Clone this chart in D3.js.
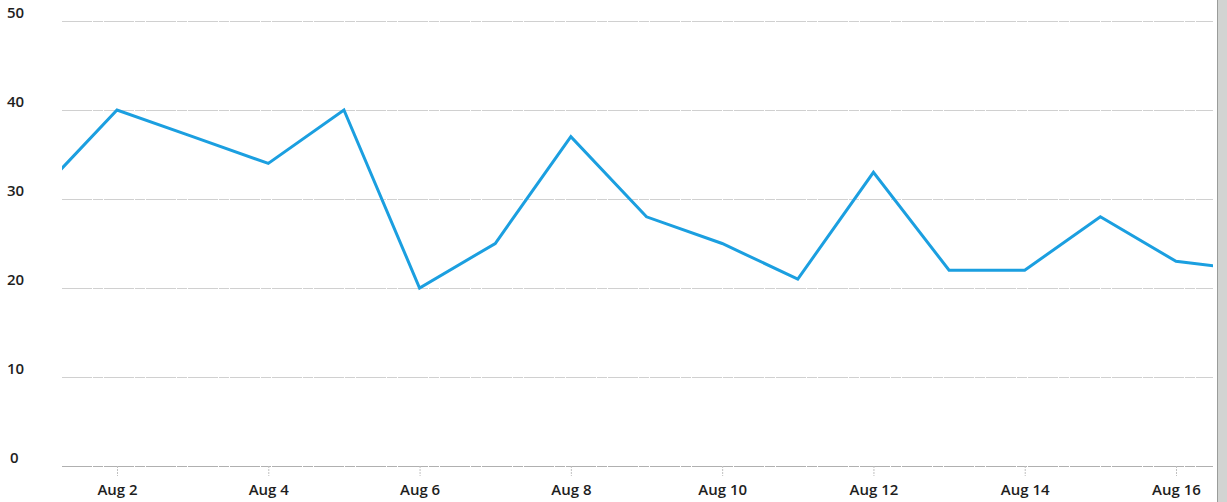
<!DOCTYPE html>
<html>
<head>
<meta charset="utf-8">
<script src="https://cdn.jsdelivr.net/npm/d3@7"></script>
<style>
  html, body { margin: 0; padding: 0; background: #fff; }
  svg { display: block; }
  .tick-label { font-family: "Open Sans", sans-serif; font-weight: 600; font-size: 15px; fill: #1e1e1e; }
</style>
</head>
<body>
<div id="chart"></div>
<script>
// data (daily values, August)
var days = [1, 2, 3, 4, 5, 6, 7, 8, 9, 10, 11, 12, 13, 14, 15, 16, 17];
var values = [31, 40, 37, 34, 40, 20, 25, 37, 28, 25, 21, 33, 22, 22, 28, 23, 22];
var yTicks = [0, 10, 20, 30, 40, 50];
var xTickDays = [2, 4, 6, 8, 10, 12, 14, 16];

var svgWidth = 1227;
var svgHeight = 502;

// plot box
var plot = { left: 62, right: 1213, top: 21, bottom: 466 };

var svg = d3.select("#chart").append("svg")
    .attr("width", svgWidth)
    .attr("height", svgHeight);

var toDate = function (d) { return new Date(2015, 7, d); };
var data = days.map(function (d, i) { return { date: toDate(d), value: values[i] }; });

// Aug 2 -> 117px, Aug 16 -> 1176px; the plot box clips the ends
var xScale = d3.scaleTime()
    .domain([toDate(2), toDate(16)])
    .range([117, 1176]);

var yScale = d3.scaleLinear()
    .domain([0, 50])
    .range([plot.bottom, plot.top]);

// gridlines
svg.append("g")
    .selectAll("line")
    .data(yTicks)
    .enter()
    .append("line")
    .attr("x1", plot.left)
    .attr("x2", plot.right)
    .attr("y1", d => yScale(d) + 0.5)
    .attr("y2", d => yScale(d) + 0.5)
    .attr("stroke", d => d === 0 ? "#b0b0b0" : "#d0d0d0")
    .attr("stroke-width", 1)
    .attr("stroke-dasharray", "30,1,10,1");

// y labels sit just above their gridline
svg.append("g")
    .selectAll("text")
    .data(yTicks)
    .enter()
    .append("text")
    .attr("class", "tick-label")
    .attr("x", d => d === 0 ? 10 : 7)
    .attr("y", d => yScale(d) - 3)
    .text(d => d);

// x axis
var xAxis = d3.axisBottom(xScale)
    .tickValues(xTickDays.map(toDate))
    .tickFormat(d3.timeFormat("%b %-d"))
    .tickSize(10)
    .tickPadding(8);

var xAxisGroup = svg.append("g")
    .attr("transform", `translate(0, ${plot.bottom})`)
    .call(xAxis);

xAxisGroup.select(".domain").remove();
xAxisGroup.selectAll(".tick line")
    .attr("stroke", "#c0c0c0")
    .attr("stroke-dasharray", "2,1");
xAxisGroup.selectAll(".tick text")
    .attr("class", "tick-label")
    .attr("font-family", null)
    .attr("font-size", null);

// clip the line to the plot box
svg.append("clipPath")
    .attr("id", "plot-clip")
    .append("rect")
    .attr("x", plot.left)
    .attr("y", 0)
    .attr("width", plot.right - plot.left)
    .attr("height", svgHeight);

var line = d3.line()
    .x(d => xScale(d.date))
    .y(d => yScale(d.value));

svg.append("path")
    .datum(data)
    .attr("clip-path", "url(#plot-clip)")
    .attr("fill", "none")
    .attr("stroke", "#1b9fe0")
    .attr("stroke-width", 3)
    .attr("stroke-linejoin", "miter")
    .attr("d", line);

// grey scanned page edge on the right
svg.append("rect")
    .attr("x", 1217)
    .attr("y", 0)
    .attr("width", 10)
    .attr("height", svgHeight)
    .attr("fill", "#d2d4d2");
svg.append("line")
    .attr("x1", 1217.5)
    .attr("x2", 1217.5)
    .attr("y1", 0)
    .attr("y2", svgHeight)
    .attr("stroke", "#9a9c9a")
    .attr("stroke-width", 1);
</script>
</body>
</html>
